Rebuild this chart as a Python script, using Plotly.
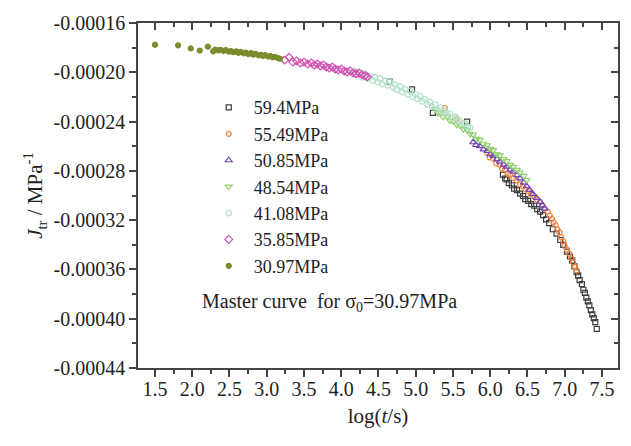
import plotly.graph_objects as go

FONT = "Liberation Serif"

# ---------------- data ----------------
series_names = ["59.4MPa", "55.49MPa", "50.85MPa", "48.54MPa", "41.08MPa", "35.85MPa", "30.97MPa"]

x_594 = [4.65, 4.95, 5.23, 5.69, 6.17, 6.20, 6.22, 6.25, 6.29, 6.32, 6.36, 6.40, 6.44, 6.47,
         6.51, 6.55, 6.59, 6.63, 6.67, 6.71, 6.75, 6.79, 6.84, 6.89, 6.94, 6.98, 7.03, 7.07,
         7.10, 7.13, 7.16, 7.18, 7.20, 7.23, 7.25, 7.27, 7.29, 7.31, 7.33, 7.35, 7.37, 7.39,
         7.41, 7.43]
y_594 = [-2.076e-4, -2.139e-4, -2.330e-4, -2.401e-4, -2.830e-4, -2.862e-4, -2.869e-4, -2.900e-4,
         -2.917e-4, -2.945e-4, -2.956e-4, -2.985e-4, -3.004e-4, -3.030e-4, -3.044e-4, -3.070e-4,
         -3.083e-4, -3.110e-4, -3.131e-4, -3.160e-4, -3.194e-4, -3.225e-4, -3.274e-4, -3.310e-4,
         -3.361e-4, -3.400e-4, -3.456e-4, -3.495e-4, -3.528e-4, -3.575e-4, -3.623e-4, -3.650e-4,
         -3.686e-4, -3.720e-4, -3.765e-4, -3.790e-4, -3.829e-4, -3.860e-4, -3.892e-4, -3.930e-4,
         -3.964e-4, -3.995e-4, -4.027e-4, -4.083e-4]

x_5549 = [5.39, 5.55, 5.96, 5.99, 6.04, 6.08, 6.13, 6.16, 6.20, 6.24, 6.27, 6.31, 6.35, 6.40,
          6.44, 6.47, 6.51, 6.55, 6.59, 6.63, 6.67, 6.70, 6.73, 6.77, 6.80, 6.83, 6.85, 6.88,
          6.90, 6.93, 6.95, 6.98, 7.00, 7.03, 7.06, 7.09, 7.11, 7.14, 7.16]
y_5549 = [-2.290e-4, -2.377e-4, -2.655e-4, -2.690e-4, -2.703e-4, -2.740e-4, -2.750e-4, -2.782e-4,
          -2.790e-4, -2.825e-4, -2.830e-4, -2.858e-4, -2.877e-4, -2.910e-4, -2.925e-4, -2.950e-4,
          -2.964e-4, -2.990e-4, -3.004e-4, -3.035e-4, -3.052e-4, -3.078e-4, -3.107e-4, -3.130e-4,
          -3.163e-4, -3.190e-4, -3.218e-4, -3.240e-4, -3.274e-4, -3.300e-4, -3.337e-4, -3.370e-4,
          -3.409e-4, -3.440e-4, -3.472e-4, -3.510e-4, -3.543e-4, -3.580e-4, -3.607e-4]

x_5085 = [5.77, 5.81, 5.86, 5.91, 5.96, 6.00, 6.04, 6.09, 6.13, 6.18, 6.22, 6.27, 6.31, 6.36,
          6.40, 6.45, 6.49, 6.53, 6.57, 6.62, 6.67, 6.70, 6.73]
y_5085 = [-2.568e-4, -2.590e-4, -2.599e-4, -2.625e-4, -2.639e-4, -2.665e-4, -2.679e-4, -2.705e-4,
          -2.726e-4, -2.750e-4, -2.766e-4, -2.790e-4, -2.806e-4, -2.835e-4, -2.861e-4, -2.895e-4,
          -2.925e-4, -2.955e-4, -2.988e-4, -3.020e-4, -3.052e-4, -3.080e-4, -3.107e-4]

x_4854 = [5.26, 5.30, 5.33, 5.37, 5.42, 5.46, 5.50, 5.55, 5.59, 5.64, 5.69, 5.73, 5.77, 5.82,
          5.86, 5.91, 5.96, 6.00, 6.04, 6.09, 6.13, 6.18, 6.22, 6.27, 6.31, 6.36, 6.40, 6.45, 6.49]
y_4854 = [-2.300e-4, -2.330e-4, -2.330e-4, -2.362e-4, -2.360e-4, -2.392e-4, -2.395e-4, -2.425e-4,
          -2.428e-4, -2.462e-4, -2.468e-4, -2.500e-4, -2.505e-4, -2.540e-4, -2.548e-4, -2.580e-4,
          -2.592e-4, -2.622e-4, -2.632e-4, -2.665e-4, -2.675e-4, -2.705e-4, -2.720e-4, -2.752e-4,
          -2.768e-4, -2.792e-4, -2.812e-4, -2.840e-4, -2.874e-4]

x_4108 = [4.18, 4.21, 4.25, 4.28, 4.32, 4.35, 4.39, 4.42, 4.45, 4.49, 4.52, 4.55, 4.59, 4.62,
          4.65, 4.69, 4.72, 4.75, 4.79, 4.82, 4.86, 4.89, 4.92, 4.96, 4.99, 5.02, 5.06, 5.09,
          5.12, 5.16, 5.19, 5.22, 5.26, 5.29, 5.33, 5.36, 5.39, 5.43, 5.46, 5.50, 5.53, 5.56,
          5.59, 5.63, 5.66, 5.70, 5.73]
y_4108 = [-1.990e-4, -2.022e-4, -2.005e-4, -2.040e-4, -2.012e-4, -2.050e-4, -2.030e-4, -2.066e-4,
          -2.040e-4, -2.080e-4, -2.052e-4, -2.095e-4, -2.068e-4, -2.105e-4, -2.076e-4, -2.120e-4,
          -2.100e-4, -2.140e-4, -2.115e-4, -2.160e-4, -2.138e-4, -2.178e-4, -2.152e-4, -2.196e-4,
          -2.175e-4, -2.215e-4, -2.195e-4, -2.238e-4, -2.218e-4, -2.260e-4, -2.240e-4, -2.280e-4,
          -2.262e-4, -2.302e-4, -2.288e-4, -2.325e-4, -2.312e-4, -2.348e-4, -2.336e-4, -2.370e-4,
          -2.360e-4, -2.392e-4, -2.390e-4, -2.418e-4, -2.415e-4, -2.445e-4, -2.450e-4]

x_3585 = [3.24, 3.30, 3.35, 3.40, 3.45, 3.50, 3.55, 3.60, 3.64, 3.68, 3.72, 3.76, 3.80, 3.84,
          3.88, 3.92, 3.96, 4.00, 4.04, 4.08, 4.12, 4.16, 4.20, 4.24, 4.28, 4.32, 4.35]
y_3585 = [-1.901e-4, -1.878e-4, -1.917e-4, -1.909e-4, -1.925e-4, -1.917e-4, -1.933e-4, -1.925e-4,
          -1.941e-4, -1.933e-4, -1.949e-4, -1.941e-4, -1.957e-4, -1.965e-4, -1.957e-4, -1.973e-4,
          -1.981e-4, -1.973e-4, -1.989e-4, -1.997e-4, -1.989e-4, -2.005e-4, -2.012e-4, -2.005e-4,
          -2.020e-4, -2.028e-4, -2.036e-4]

x_3097 = [1.50, 1.81, 1.98, 2.10, 2.21, 2.28, 2.31, 2.35, 2.38, 2.42, 2.45, 2.49, 2.52, 2.55,
          2.59, 2.62, 2.65, 2.69, 2.72, 2.75, 2.79, 2.82, 2.85, 2.89, 2.92, 2.95, 2.98, 3.02,
          3.05, 3.08, 3.11, 3.15, 3.18]
y_3097 = [-1.776e-4, -1.781e-4, -1.806e-4, -1.823e-4, -1.792e-4, -1.830e-4, -1.815e-4, -1.822e-4,
          -1.818e-4, -1.826e-4, -1.820e-4, -1.832e-4, -1.828e-4, -1.836e-4, -1.830e-4, -1.841e-4,
          -1.835e-4, -1.846e-4, -1.840e-4, -1.852e-4, -1.845e-4, -1.857e-4, -1.850e-4, -1.862e-4,
          -1.858e-4, -1.866e-4, -1.861e-4, -1.872e-4, -1.868e-4, -1.878e-4, -1.874e-4, -1.884e-4,
          -1.890e-4]

x_tick_labels = ["1.5", "2.0", "2.5", "3.0", "3.5", "4.0", "4.5", "5.0", "5.5", "6.0", "6.5", "7.0", "7.5"]
y_tick_labels = ["-0.00016", "-0.00020", "-0.00024", "-0.00028", "-0.00032", "-0.00036", "-0.00040", "-0.00044"]

# ---------------- styles ----------------
xs = [x_594, x_5549, x_5085, x_4854, x_4108, x_3585, x_3097]
ys = [y_594, y_5549, y_5085, y_4854, y_4108, y_3585, y_3097]
symbols = ["square-open", "circle-open", "triangle-up-open", "triangle-down-open",
           "hexagon-open", "diamond-open", "circle"]
colors = ["#3c3c3c", "#f5803e", "#6d45bd", "#8fd06a", "#b4e2c8", "#d24fb2", "#7d8b2d"]
sizes = [5, 5, 6, 6, 6, 6, 5]

fig = go.Figure()
for n, xv, yv, sym, col, sz in zip(series_names, xs, ys, symbols, colors, sizes):
    fig.add_trace(go.Scatter(
        x=xv, y=yv, mode="markers", name=n,
        marker=dict(symbol=sym, color=col, size=sz, line=dict(color=col, width=1.2)),
    ))

xt_vals = [float(t) for t in x_tick_labels]
yt_vals = [float(t) for t in y_tick_labels]
xr = [1.272, 7.715]
yr = [-0.00044, -0.00016]
axcol = "#444444"

fig.update_layout(
    width=631, height=446,
    margin=dict(l=138, r=13, t=15, b=78),
    paper_bgcolor="white", plot_bgcolor="white",
    font=dict(family=FONT, size=20, color="#222222"),
    showlegend=True,
    legend=dict(x=0.137, y=0.808, xanchor="left", yanchor="top",
                bgcolor="rgba(0,0,0,0)", font=dict(size=18, family=FONT),
                itemwidth=40, tracegroupgap=0),
    xaxis=dict(range=xr, tickmode="array", tickvals=xt_vals, ticktext=x_tick_labels,
               ticks="outside", ticklen=7, tickwidth=1.5, tickcolor=axcol, ticklabelstandoff=-5,
               showline=True, linecolor=axcol, linewidth=1.5, showgrid=False, zeroline=False,
               minor=dict(ticks="outside", ticklen=4, tickwidth=1.5, tickcolor=axcol,
                          tick0=1.5, dtick=0.25, showgrid=False),
               title=dict(text="log(<i>t</i>/s)", font=dict(size=21, family=FONT), standoff=10)),
    yaxis=dict(range=yr, tickmode="array", tickvals=yt_vals, ticktext=y_tick_labels,
               ticks="outside", ticklen=7, tickwidth=1.5, tickcolor=axcol,
               showline=True, linecolor=axcol, linewidth=1.5, showgrid=False, zeroline=False,
               minor=dict(ticks="outside", ticklen=4, tickwidth=1.5, tickcolor=axcol,
                          tick0=-0.00016, dtick=0.00002, showgrid=False),
               title=dict(text="<i>J</i><sub>tr</sub> / MPa<sup>-1</sup>",
                          font=dict(size=21, family=FONT), standoff=5)),
    xaxis2=dict(range=xr, overlaying="x", side="top", tickmode="array", tickvals=xt_vals,
                ticks="inside", ticklen=7, tickwidth=1.5, tickcolor=axcol, showticklabels=False,
                showline=True, linecolor=axcol, linewidth=1.5, showgrid=False, zeroline=False,
                minor=dict(ticks="inside", ticklen=4, tickwidth=1.5, tickcolor=axcol,
                           tick0=1.5, dtick=0.25, showgrid=False)),
    yaxis2=dict(range=yr, overlaying="y", side="right", tickmode="array", tickvals=yt_vals,
                ticks="inside", ticklen=7, tickwidth=1.5, tickcolor=axcol, showticklabels=False,
                showline=True, linecolor=axcol, linewidth=1.5, showgrid=False, zeroline=False,
                minor=dict(ticks="inside", ticklen=4, tickwidth=1.5, tickcolor=axcol,
                           tick0=-0.00016, dtick=0.00002, showgrid=False)),
)

# invisible helper trace so the mirrored (top/right) axes are drawn
fig.add_trace(go.Scatter(x=[xr[0]], y=[yr[0]], xaxis="x2", yaxis="y2", mode="markers",
                         marker=dict(opacity=0), showlegend=False, hoverinfo="skip"))

fig.add_annotation(
    x=2.10, y=-0.000387, xref="x", yref="y", xanchor="left", yanchor="middle",
    text="Master curve\u00a0\u00a0for σ<sub>0</sub>=30.97MPa", showarrow=False,
    font=dict(family=FONT, size=20, color="#222222"),
)

fig.write_html("out.html")
